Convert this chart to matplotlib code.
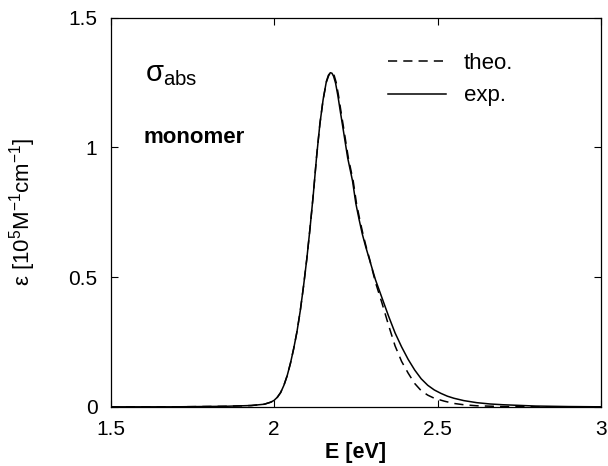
import matplotlib
matplotlib.use("Agg")
import matplotlib.pyplot as plt

plt.rcParams['font.family'] = ['Liberation Sans', 'DejaVu Sans']
plt.rcParams['mathtext.fontset'] = 'custom'
plt.rcParams['mathtext.rm'] = 'Liberation Sans'
plt.rcParams['mathtext.default'] = 'regular'

# experimental absorption (solid)
e_exp = [1.50, 1.70, 1.85, 1.93, 1.97, 1.99, 2.00, 2.01, 2.02, 2.03, 2.04, 2.05, 2.06,
         2.07, 2.08, 2.09, 2.10, 2.11, 2.12, 2.13, 2.14, 2.15, 2.16, 2.166, 2.172,
         2.177, 2.182, 2.188, 2.195, 2.203, 2.21, 2.225, 2.24, 2.25, 2.26, 2.27,
         2.28, 2.29, 2.31, 2.33, 2.35, 2.37, 2.39, 2.41, 2.43, 2.45, 2.47, 2.49, 2.51,
         2.53, 2.55, 2.58, 2.62, 2.66, 2.70, 2.80, 2.90, 3.00]
eps_exp = [0.0, 0.0, 0.002, 0.005, 0.01, 0.018, 0.025, 0.037, 0.055, 0.083, 0.12, 0.168, 0.225,
           0.29, 0.37, 0.465, 0.57, 0.69, 0.82, 0.965, 1.09, 1.185, 1.255, 1.278, 1.288,
           1.286, 1.274, 1.248, 1.20, 1.135, 1.08, 0.96, 0.87, 0.784, 0.722, 0.665,
           0.618, 0.575, 0.49, 0.42, 0.35, 0.285, 0.231, 0.183, 0.142, 0.108, 0.083, 0.065, 0.052,
           0.041, 0.033, 0.024, 0.016, 0.011, 0.008, 0.003, 0.001, 0.0]

# theoretical absorption (dashed)
e_theo = [1.50, 1.70, 1.85, 1.93, 1.97, 1.99, 2.00, 2.01, 2.02, 2.03, 2.04, 2.05, 2.06,
          2.07, 2.08, 2.09, 2.10, 2.11, 2.12, 2.13, 2.14, 2.15, 2.16, 2.167, 2.174,
          2.179, 2.184, 2.190, 2.197, 2.205, 2.212, 2.227, 2.242, 2.252, 2.262, 2.272,
          2.282, 2.292, 2.31, 2.33, 2.35, 2.37, 2.39, 2.41, 2.43, 2.45, 2.47, 2.49, 2.52,
          2.55, 2.58, 2.62, 2.70, 2.80, 3.00]
eps_theo = [0.0, 0.0, 0.002, 0.005, 0.01, 0.018, 0.025, 0.037, 0.055, 0.083, 0.12, 0.168, 0.225,
            0.29, 0.37, 0.465, 0.57, 0.69, 0.82, 0.965, 1.09, 1.185, 1.252, 1.277, 1.29,
            1.288, 1.276, 1.25, 1.20, 1.135, 1.08, 0.96, 0.87, 0.784, 0.722, 0.665,
            0.615, 0.57, 0.48, 0.40, 0.315, 0.235, 0.175, 0.13, 0.09, 0.062, 0.045, 0.033, 0.022,
            0.013, 0.008, 0.004, 0.001, 0.0, 0.0]

xticks = [1.5, 2, 2.5, 3]
xticklabels = ['1.5', '2', '2.5', '3']
yticks = [0, 0.5, 1, 1.5]
yticklabels = ['0', '0.5', '1', '1.5']

fig = plt.figure(figsize=(6.08, 4.66), dpi=100)
ax = fig.add_axes([0.182, 0.127, 0.8065, 0.835])

ax.plot(e_theo, eps_theo, color='black', lw=1.1, ls=(0, (6, 4)), label='theo.')
ax.plot(e_exp, eps_exp, color='black', lw=1.1, label='exp.')

ax.set_xlim(1.5, 3)
ax.set_ylim(0, 1.5)
ax.set_xticks(xticks)
ax.set_xticklabels(xticklabels)
ax.set_yticks(yticks)
ax.set_yticklabels(yticklabels)
ax.tick_params(direction='in', length=5, width=0.8, labelsize=15,
               top=True, right=True, pad=9.5)
for s in ax.spines.values():
    s.set_linewidth(0.9)

ax.set_xlabel('E [eV]', fontsize=15.5, fontweight='bold', labelpad=2)
ax.set_ylabel('ε [10$^5$M$^{-1}$cm$^{-1}$]', fontsize=16, labelpad=22)

ax.text(1.605, 1.255, 'σ$_{abs}$', fontsize=21, ha='left', va='baseline')
ax.text(1.602, 1.04, 'monomer', fontsize=16, fontweight='bold', ha='left', va='center')

leg = ax.legend(loc='upper right', bbox_to_anchor=(0.862, 0.96), frameon=False,
                fontsize=16, handlelength=2.6, handletextpad=0.8, labelspacing=0.5)

fig.savefig('out.png', dpi=100)
